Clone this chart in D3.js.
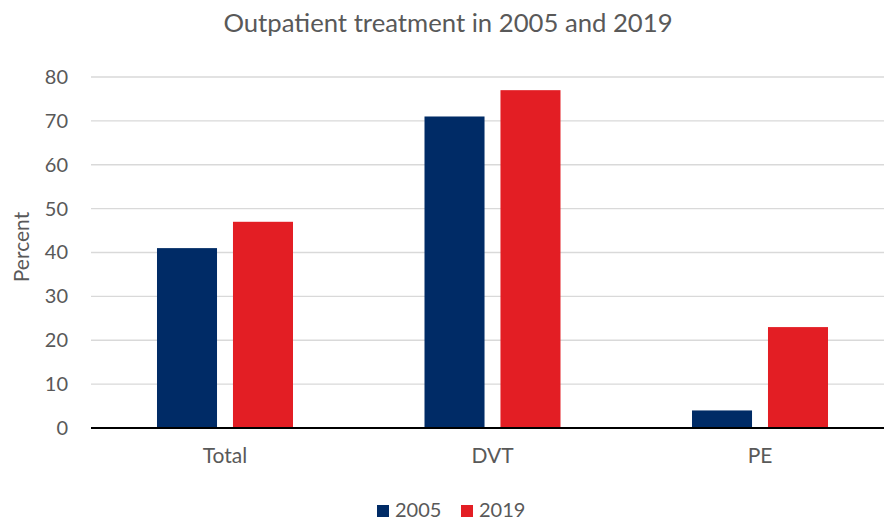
<!DOCTYPE html>
<html>
<head>
<meta charset="utf-8">
<script src="https://cdn.jsdelivr.net/npm/d3@7"></script>
<style>
  body { margin: 0; background: #fff; }
  text { font-family: Lato, "Open Sans", sans-serif; fill: #595959; }
</style>
</head>
<body>
<svg id="chart"></svg>
<script>
// chart data
const categories = ['Total', 'DVT', 'PE'];
const seriesNames = ['2005', '2019'];
const values2005 = [41, 71, 4];
const values2019 = [47, 77, 23];
const yTicks = [0, 10, 20, 30, 40, 50, 60, 70, 80];
const colors = ['#002b66', '#e31e24'];

const WIDTH = 885;
const HEIGHT = 521;
const PLOT_LEFT = 91;
const PLOT_RIGHT = 884;
const PLOT_TOP = 77;
const PLOT_BOTTOM = 428;

const svg = d3.select('#chart')
  .attr('width', WIDTH)
  .attr('height', HEIGHT);

// category bands, groups of two bars
const x0 = d3.scaleBand()
  .domain(categories)
  .range([PLOT_LEFT, 894])
  .paddingInner(0.4916)
  .paddingOuter(0.2467);

const x1 = d3.scaleBand()
  .domain(seriesNames)
  .range([0, x0.bandwidth()])
  .paddingInner(0.21);

const y = d3.scaleLinear()
  .domain([0, 80])
  .range([PLOT_BOTTOM, PLOT_TOP]);

// gridlines
svg.append('g')
  .selectAll('line')
  .data(yTicks.filter(t => t > 0))
  .enter()
  .append('line')
  .attr('x1', PLOT_LEFT)
  .attr('x2', PLOT_RIGHT)
  .attr('y1', t => y(t))
  .attr('y2', t => y(t))
  .attr('stroke', '#d9d9d9')
  .attr('stroke-width', 1.3);

// y tick labels
const yAxis = d3.axisLeft(y).tickValues(yTicks).tickSize(0).tickPadding(23);
svg.append('g')
  .attr('transform', `translate(${PLOT_LEFT}, 0)`)
  .call(yAxis)
  .call(g => g.select('.domain').remove())
  .selectAll('text')
  .style('font-size', '20px')
  .attr('fill', '#595959');

// bars
const rows = categories.map((c, i) => ({ category: c, values: [values2005[i], values2019[i]] }));
const groups = svg.append('g')
  .selectAll('g')
  .data(rows)
  .enter()
  .append('g')
  .attr('transform', d => `translate(${x0(d.category)}, 0)`);

groups.selectAll('rect')
  .data(d => d.values.map((v, i) => ({ name: seriesNames[i], value: v, color: colors[i] })))
  .enter()
  .append('rect')
  .attr('x', d => x1(d.name))
  .attr('width', x1.bandwidth())
  .attr('y', d => y(d.value))
  .attr('height', d => y(0) - y(d.value))
  .attr('fill', d => d.color);

// x axis
const xAxis = d3.axisBottom(x0).tickSize(0).tickPadding(20);
svg.append('g')
  .attr('transform', `translate(0, ${PLOT_BOTTOM})`)
  .call(xAxis)
  .call(g => g.select('.domain')
    .attr('stroke', '#000')
    .attr('stroke-width', 2)
    .attr('d', `M${PLOT_LEFT},0H${PLOT_RIGHT}`))
  .selectAll('text')
  .style('font-size', '21px')
  .attr('fill', '#595959');

// title
svg.append('text')
  .attr('x', 448)
  .attr('y', 32)
  .attr('text-anchor', 'middle')
  .style('font-size', '25.7px')
  .text('Outpatient treatment in 2005 and 2019');

// y axis title
svg.append('text')
  .attr('transform', 'translate(29, 247) rotate(-90)')
  .attr('text-anchor', 'middle')
  .style('font-size', '21px')
  .text('Percent');

// legend
const legend = svg.append('g')
  .selectAll('g')
  .data(seriesNames)
  .enter()
  .append('g')
  .attr('transform', (d, i) => `translate(${377 + i * 84}, 505)`);

legend.append('rect')
  .attr('width', 12)
  .attr('height', 12)
  .attr('fill', (d, i) => colors[i]);

legend.append('text')
  .attr('x', 18)
  .attr('y', 12)
  .style('font-size', '20px')
  .text(d => d);
</script>
</body>
</html>
